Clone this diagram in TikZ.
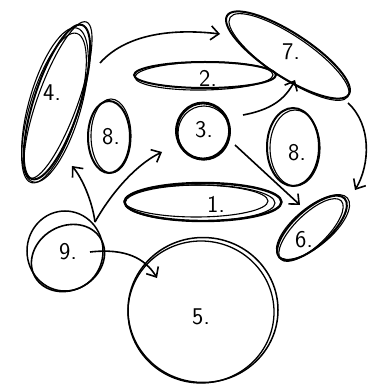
\documentclass[tikz,border=0pt]{standalone}
\usetikzlibrary{shapes.geometric,arrows.meta,calc}
\begin{document}
\begin{tikzpicture}[x=1pt,y=-1pt,
 shp/.style={ellipse,draw,line width=2pt,inner sep=0pt},
 extra/.style={line width=1.1pt},
 lab/.style={font=\sffamily\fontsize{24}{24}\selectfont},
 arr/.style={line width=1.6pt,-{Straight Barb[length=8pt,width=14pt,line width=1.6pt]}}]
\useasboundingbox[fill=white] (0,0) rectangle (374,387);
% shapes
\node[shp, minimum width=162pt, minimum height=46pt, rotate=72] (s4) at (57,102) {};
\draw[extra, rotate around={74:(55,105)}] (55,105) ellipse [x radius=80, y radius=26];
\draw[extra, rotate around={70:(58,100)}] (58,100) ellipse [x radius=83, y radius=20];
\draw[extra, rotate around={73:(54,108)}] (54,108) ellipse [x radius=78, y radius=24];
\node[shp, minimum width=142pt, minimum height=26pt] (s2) at (205,75) {};
\draw[extra, rotate around={1:(204,76)}] (204,76) ellipse [x radius=69, y radius=14];
\node[shp, minimum width=145pt, minimum height=44pt, rotate=-33] (s7) at (288,55) {};
\draw[extra, rotate around={-34:(289,57)}] (289,57) ellipse [x radius=71, y radius=21];
\node[shp, minimum width=42pt, minimum height=72pt] (s8a) at (109,137) {};
\draw[extra] (111,136) ellipse [x radius=20, y radius=37];
\node[shp, line width=2.8pt, minimum width=53pt, minimum height=56pt] (s3) at (203,131) {};
\draw[extra] (204,133) ellipse [x radius=26, y radius=27];
\node[shp, minimum width=52pt, minimum height=78pt] (s8b) at (293,147) {};
\draw[extra] (295,148) ellipse [x radius=25, y radius=38];
\node[shp, line width=2.4pt, minimum width=157pt, minimum height=38pt] (s1) at (203,202) {};
\draw[extra] (196,201) ellipse [x radius=72, y radius=16];
\draw[extra] (200,203) ellipse [x radius=75, y radius=18];
\node[shp, minimum width=88pt, minimum height=36pt, rotate=42] (s6) at (312,228) {};
\draw[extra, rotate around={44:(311,230)}] (311,230) ellipse [x radius=42, y radius=16];
\draw[extra, rotate around={40:(313,227)}] (313,227) ellipse [x radius=45, y radius=19];
\node[shp, line width=1.5pt, minimum width=76pt, minimum height=80pt] (s9) at (65,251) {};
\draw[extra, line width=1.6pt, rotate around={30:(68,258)}] (68,258) ellipse [x radius=38, y radius=32];
\node[shp, line width=1.5pt, minimum width=150pt, minimum height=145pt] (s5) at (203,310) {};
\draw[extra, line width=1.3pt] (201,312) ellipse [x radius=73, y radius=71];
% labels
\node[lab] (t4) at (52,93) {4.};
\node[lab] (t2) at (208,78) {2.};
\node[lab] (t7) at (291,52) {7.};
\node[lab] (t8a) at (111,137) {8.};
\node[lab] (t3) at (204,130) {3.};
\node[lab] (t8b) at (297,153) {8.};
\node[lab] (t1) at (216,204) {1.};
\node[lab] (t6) at (304,240) {6.};
\node[lab] (t9) at (68,252) {9.};
\node[lab] (t5) at (201,317) {5.};
% arrows
\draw[arr] ($(s4)+(43,-39)$) .. controls ($(s4)+(68,-67)$) and ($(s7)+(-118,-27)$) .. ($(s7)+(-68,-21)$);
\draw[arr] ($(s3)+(40,-16)$) .. controls ($(s3)+(67,-21)$) and ($(s7)+(-3,45)$) .. ($(s7)+(7,25)$);
\draw[arr] ($(s7)+(60,48)$) .. controls ($(s7)+(84,70)$) and ($(s6)+(58,-63)$) .. ($(s6)+(43,-38)$);
\draw[arr] ($(s3)+(32,14)$) -- ($(s6)+(-12,-23)$);
\draw[arr] ($(s9)+(30,-29)$) .. controls ($(s9)+(27,-51)$) and ($(s4)+(25,76)$) .. ($(s4)+(15,64)$);
\draw[arr] ($(s9)+(30,-29)$) .. controls ($(s9)+(45,-56)$) and ($(s3)+(-68,34)$) .. ($(s3)+(-41,21)$);
\draw[arr] ($(s9)+(25,1)$) .. controls ($(s9)+(60,-3)$) and ($(s5)+(-58,-52)$) .. ($(s5)+(-46,-32)$);
\end{tikzpicture}
\end{document}
